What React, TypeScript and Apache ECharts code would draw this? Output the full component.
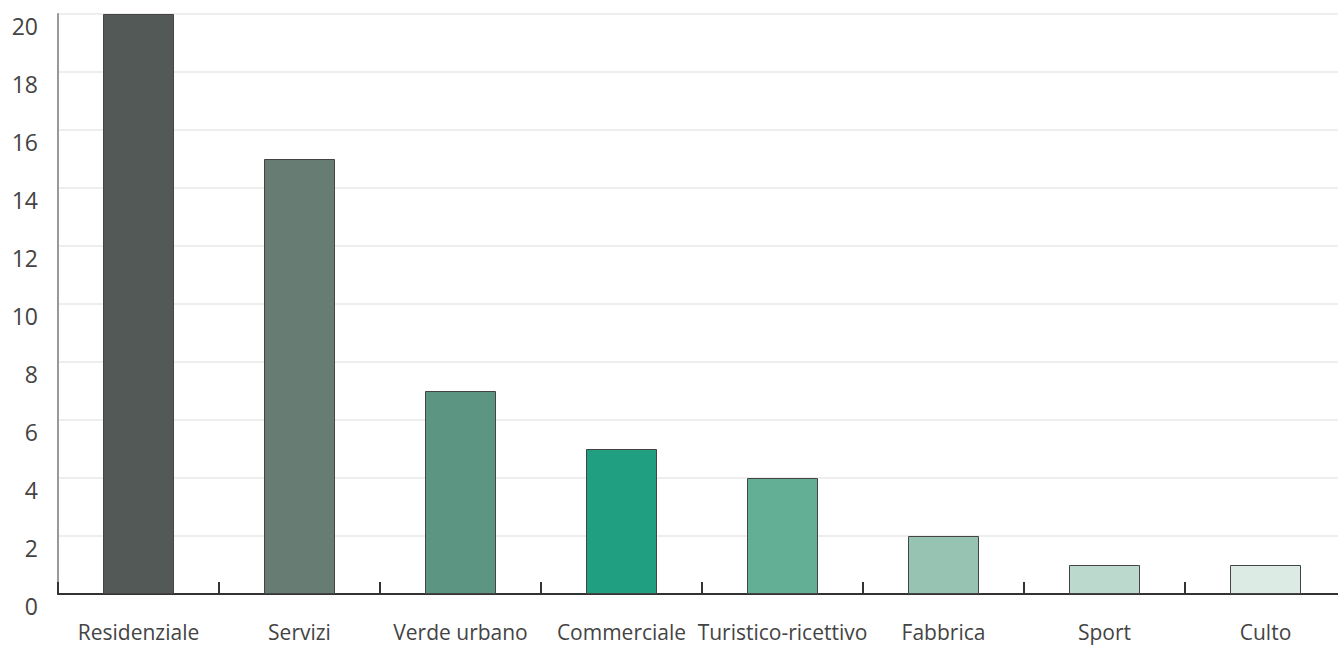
import React, { useEffect, useRef } from "react";
import * as echarts from "echarts";

const categories = ["Residenziale", "Servizi", "Verde urbano", "Commerciale", "Turistico-ricettivo", "Fabbrica", "Sport", "Culto"];
const values = [20, 15, 7, 5, 4, 2, 1, 1];
const colors = ["#525956", "#677d74", "#5c9682", "#20a080", "#63af96", "#97c4b2", "#bcd9cd", "#dcebe4"];
const yTicks = { min: 0, max: 20, interval: 2 };

export default function App() {
  const ref = useRef<HTMLDivElement>(null);
  useEffect(() => {
    const chart = echarts.init(ref.current!, null, { renderer: "svg" });
    chart.setOption({
      animation: false,
      grid: { left: 58, top: 14, width: 1288, height: 580, containLabel: false },
      xAxis: {
        type: "category",
        data: categories,
        axisLine: { lineStyle: { color: "#333", width: 2 } },
        axisTick: { show: true, inside: true, length: 12, lineStyle: { color: "#333", width: 2 } },
        axisLabel: { color: "#444", fontSize: 21, lineHeight: 20, fontFamily: "Open Sans", margin: 28, interval: 0 },
      },
      yAxis: {
        type: "value",
        min: yTicks.min,
        max: yTicks.max,
        interval: yTicks.interval,
        axisLine: { show: true, lineStyle: { color: "#999", width: 2 } },
        axisTick: { show: false },
        splitLine: { lineStyle: { color: "#e8e8e8", width: 1.5 } },
        axisLabel: { color: "#444", fontSize: 23, fontFamily: "Open Sans", margin: 20, verticalAlign: "top" },
      },
      series: [
        {
          type: "bar",
          data: values.map((v, i) => ({ value: v, itemStyle: { color: colors[i] } })),
          barWidth: 71,
          itemStyle: { borderColor: "#444", borderWidth: 1 },
        },
      ],
    });
    return () => chart.dispose();
  }, []);
  return (
    <div style={{ position: "absolute", left: 0, top: 0, width: 1338, height: 646, overflow: "hidden" }}>
      <div ref={ref} style={{ width: 1360, height: 646 }} />
    </div>
  );
}
